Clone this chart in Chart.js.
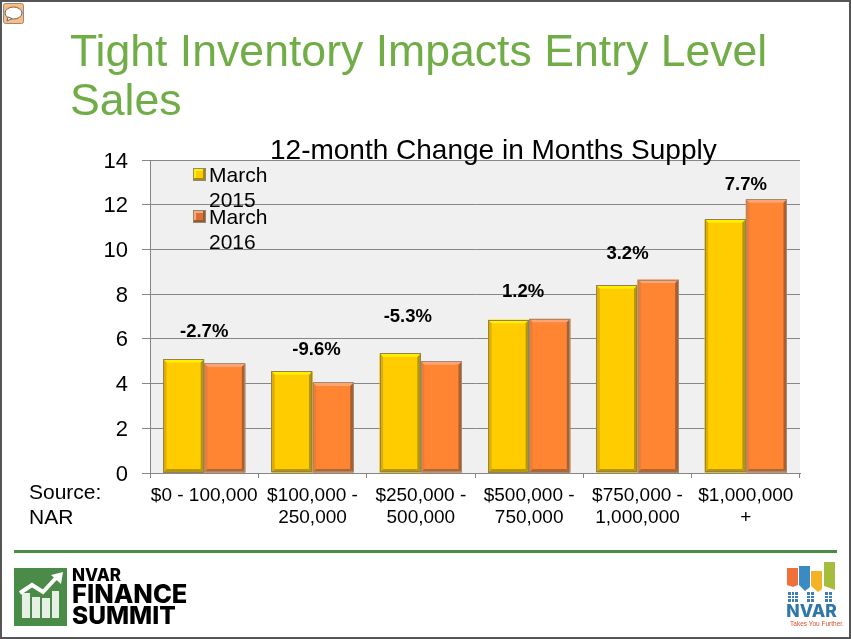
<!DOCTYPE html>
<html>
<head>
<meta charset="utf-8">
<title>Tight Inventory Impacts Entry Level Sales</title>
<script src="https://cdn.jsdelivr.net/npm/chart.js@4"></script>
<style>
  html, body { margin: 0; padding: 0; background: #fff; }
  #slide { position: relative; width: 851px; height: 639px; overflow: hidden; font-family: "Liberation Sans", Arial, sans-serif; color: #000; }
  #frame { position: absolute; left: 0; top: 0; width: 847px; height: 635px; border: 2px solid #555; pointer-events: none; }
  #bar-chart { position: absolute; left: 0; top: 0; }
  .txt { position: absolute; white-space: nowrap; }
  #heading { left: 70px; top: 26px; font-size: 44.6px; line-height: 49px; color: #70ad47; }
  #chartTitle { left: 270px; top: 135px; font-size: 28px; line-height: 30px; }
  #source { left: 29px; top: 479px; font-size: 21px; line-height: 25px; }
  .legendText { left: 209px; font-size: 21px; line-height: 25px; }
  .swatch { position: absolute; left: 193px; width: 11px; height: 11px; border: 1px solid #8f8a70; box-sizing: content-box; }
  #rule { position: absolute; left: 14px; top: 550px; width: 823px; height: 3px; background: #4a8b47; }
  svg { position: absolute; }
</style>
</head>
<body>
<div id="slide">
  <canvas id="bar-chart" width="851" height="639"></canvas>

  <div id="heading" class="txt">Tight Inventory Impacts Entry Level<br>Sales</div>
  <div id="chartTitle" class="txt">12-month Change in Months Supply</div>

  <div class="swatch" style="top:168px;background:#ffcc00;box-shadow:inset -2px -2px 0 #a88a10, inset 2px 2px 0 #fff200"></div>
  <div class="legendText txt" style="top:162px">March<br>2015</div>
  <div class="swatch" style="top:210px;background:#d9703a;box-shadow:inset -2px -2px 0 #9a5a30, inset 2px 2px 0 #ffa878"></div>
  <div class="legendText txt" style="top:204px">March<br>2016</div>

  <div id="source" class="txt">Source:<br>NAR</div>
  <div id="rule"></div>

  <!-- comment icon -->
  <svg style="left:3px;top:3px" width="22" height="22" viewBox="0 0 22 22">
    <rect x="0.5" y="0.5" width="20" height="20" rx="2" fill="#fdbb7e" stroke="#8c8c8c"/>
    <ellipse cx="10.5" cy="10" rx="8.5" ry="6" fill="#fff" stroke="#666"/>
    <path d="M5 14 L4 18 L9 15.5 Z" fill="#fff" stroke="#666"/>
  </svg>

  <!-- finance summit logo -->
  <svg style="left:14px;top:567px" width="180" height="60" viewBox="0 0 180 60">
    <rect x="0" y="1" width="53" height="58" fill="#4a8b47"/>
    <g fill="#e6f0e4">
      <rect x="8" y="26" width="8" height="25"/>
      <rect x="18" y="30" width="8" height="21"/>
      <rect x="28" y="31" width="8" height="20"/>
      <rect x="38" y="24" width="7" height="27"/>
    </g>
    <path d="M6 26 L18 18 L29 25 L42 11" fill="none" stroke="#fff" stroke-width="4"/>
    <path d="M37 8 L49 5 L47 17 Z" fill="#fff"/>
    <text x="58" y="14" font-family="Inter" font-weight="800" font-size="17">NVAR</text>
    <text x="58" y="36" font-family="Inter" font-weight="800" font-size="25.5">FINANCE</text>
    <text x="58" y="57" font-family="Inter" font-weight="800" font-size="24.5">SUMMIT</text>
  </svg>

  <!-- nvar logo -->
  <svg style="left:784px;top:560px" width="60" height="72" viewBox="0 0 60 72">
    <path d="M3 8 H14 V25 L9 27 L3 25 Z" fill="#f0703a"/>
    <path d="M15 6 H26 V27 L21 31 L15 25 Z" fill="#3a8ac4"/>
    <path d="M27 11 H38 V29 L34 32 L27 26 Z" fill="#f4b324"/>
    <path d="M40 2 H51 V30 L46 28 L40 26 Z" fill="#a4bd3a"/>
    <g fill="#3f7fb8">
      <rect x="4" y="32" width="10" height="10"/>
      <rect x="23" y="32" width="7" height="10"/>
      <rect x="41" y="32" width="7" height="10"/>
    </g>
    <g stroke="#fff" stroke-width="1">
      <path d="M7.5 32 V42 M10.5 32 V42 M4 35.5 H14 M4 38.5 H14"/>
      <path d="M26.5 32 V42 M23 35.5 H30 M23 38.5 H30"/>
      <path d="M44.5 32 V42 M41 35.5 H48 M41 38.5 H48"/>
    </g>
    <text x="27.5" y="57" text-anchor="middle" font-family="Inter" font-weight="800" font-size="17.5" fill="#2f77a8">NVAR</text>
    <text x="33" y="66" text-anchor="middle" font-family="Liberation Sans" font-size="6.5" fill="#d8502a">Takes You Further.</text>
  </svg>

  <div id="frame"></div>
</div>

<script>
var categories = [
  ["$0 - 100,000"],
  ["$100,000 -", "250,000"],
  ["$250,000 -", "500,000"],
  ["$500,000 -", "750,000"],
  ["$750,000 -", "1,000,000"],
  ["$1,000,000", "+"]
];
var march2015 = [5.1, 4.55, 5.35, 6.85, 8.4, 11.35];
var march2016 = [4.9, 4.05, 5.0, 6.9, 8.65, 12.25];
var changeLabels = ["-2.7%", "-9.6%", "-5.3%", "1.2%", "3.2%", "7.7%"];

// the percent labels are loose text boxes on the slide, not tied to the bar tops
var labelLevel = [6.3, 5.5, 7.0, 8.12, 9.82, 12.9];
var labelShift = [0, 4, -13, -6, -10, 0];

const plotBackground = {
  id: "plotBackground",
  beforeDraw(chart) {
    const a = chart.chartArea;
    chart.ctx.fillStyle = "#f0f0f0";
    chart.ctx.fillRect(a.left, a.top, a.right - a.left, a.bottom - a.top);
  }
};

// fake the 3d bevel on the bars
const bevel = {
  id: "bevel",
  afterDatasetsDraw(chart) {
    const ctx = chart.ctx;
    const looks = [
      { top: "#ffee00", left: "#e0ae00", right: "#b8960a", low: "#b8960a", rim: "#8f8450" },
      { top: "#ffa472", left: "#f07c34", right: "#a8602f", low: "#b0662f", rim: "#a08a78" }
    ];
    chart.data.datasets.forEach((ds, d) => {
      const look = looks[d];
      chart.getDatasetMeta(d).data.forEach((bar) => {
        const l = bar.x - bar.width / 2, r = bar.x + bar.width / 2, t = bar.y, b = bar.base;
        const s = 3.5;
        ctx.fillStyle = look.top;
        ctx.beginPath(); ctx.moveTo(l, t); ctx.lineTo(r, t); ctx.lineTo(r - s, t + s); ctx.lineTo(l + s, t + s); ctx.fill();
        ctx.fillStyle = look.left;
        ctx.beginPath(); ctx.moveTo(l, t); ctx.lineTo(l + s, t + s); ctx.lineTo(l + s, b - s); ctx.lineTo(l, b); ctx.fill();
        ctx.fillStyle = look.right;
        ctx.beginPath(); ctx.moveTo(r, t); ctx.lineTo(r, b); ctx.lineTo(r - s, b - s); ctx.lineTo(r - s, t + s); ctx.fill();
        ctx.fillStyle = look.low;
        ctx.beginPath(); ctx.moveTo(l, b); ctx.lineTo(r, b); ctx.lineTo(r - s, b - s); ctx.lineTo(l + s, b - s); ctx.fill();
        ctx.strokeStyle = look.rim;
        ctx.lineWidth = 1;
        ctx.strokeRect(Math.round(l) + 0.5, Math.round(t) + 0.5, Math.round(r - l) - 1, Math.round(b - t) - 1);
      });
    });
  }
};

const changeText = {
  id: "changeText",
  afterDraw(chart) {
    const ctx = chart.ctx;
    ctx.save();
    ctx.font = "bold 18.5px 'Liberation Sans'";
    ctx.fillStyle = "#000";
    ctx.textAlign = "center";
    ctx.textBaseline = "middle";
    changeLabels.forEach((label, i) => {
      ctx.fillText(label, chart.scales.x.getPixelForValue(i) + labelShift[i], chart.scales.y.getPixelForValue(labelLevel[i]));
    });
    ctx.restore();
  }
};

Chart.defaults.font.family = "'Liberation Sans'";
Chart.defaults.color = "#000";

const config = {
  type: "bar",
  data: {
    labels: categories,
    datasets: [
      { label: "March 2015", data: march2015, backgroundColor: "#ffcc00", borderWidth: 0 },
      { label: "March 2016", data: march2016, backgroundColor: "#ff8533", borderWidth: 0 }
    ]
  },
  options: {
    responsive: false,
    animation: false,
    categoryPercentage: 0.76,
    barPercentage: 1,
    layout: { padding: { left: 0, top: 160, right: 51, bottom: 0 } },
    plugins: { legend: { display: false }, title: { display: false }, tooltip: { enabled: false } },
    scales: {
      x: {
        afterFit: (scale) => { scale.height = 166; },
        grid: { drawOnChartArea: false, color: "#868686", tickLength: 5 },
        border: { color: "#868686" },
        ticks: { font: { size: 19 }, maxRotation: 0, autoSkip: false, padding: 6 }
      },
      y: {
        min: 0,
        max: 14,
        afterFit: (scale) => { scale.width = 150; },
        grid: { color: "#868686", tickLength: 8 },
        border: { color: "#868686" },
        ticks: { stepSize: 2, font: { size: 22 }, padding: 14, labelOffset: 1.5 }
      }
    }
  },
  plugins: [plotBackground, bevel, changeText]
};

var chart = new Chart(document.getElementById("bar-chart").getContext("2d"), config);
</script>
</body>
</html>
